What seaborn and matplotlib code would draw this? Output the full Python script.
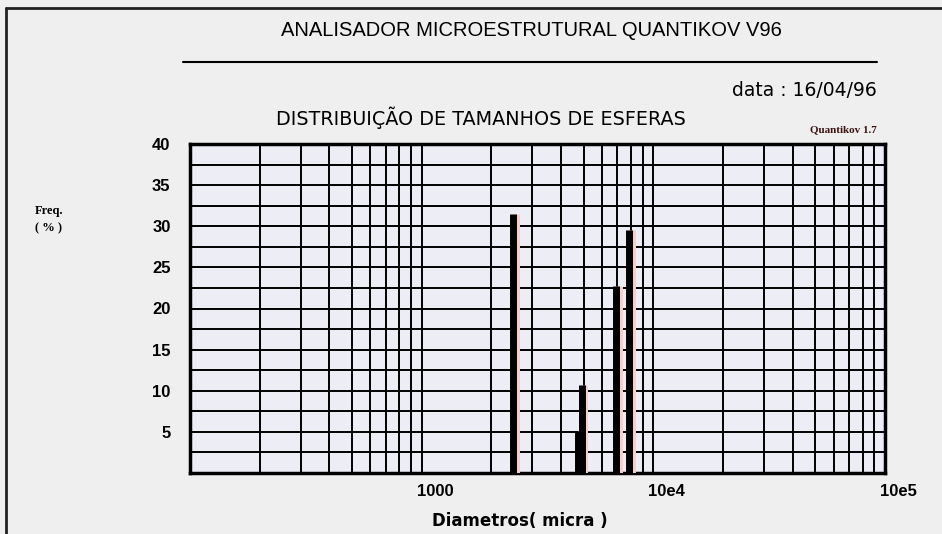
import numpy as np
import pandas as pd
import matplotlib
matplotlib.use('Agg')
import matplotlib.pyplot as plt
import matplotlib.patheffects as pe
import matplotlib.transforms as mtransforms
from matplotlib.lines import Line2D
from matplotlib.ticker import LogLocator, FixedLocator, NullFormatter
import seaborn as sns

# dados
diametros = [2480, 4730, 4920, 6930, 7890]
frequencias = [31.5, 5.1, 10.7, 22.7, 29.6]
xtick_vals = [1000, 10000, 100000]
xtick_labels = ['1000', '10e4', '10e5']
ytick_vals = [5, 10, 15, 20, 25, 30, 35, 40]

# cada barra vira um segmento vertical (0 -> freq)
rows = []
for i, (d, f) in enumerate(zip(diametros, frequencias)):
    rows.append({'barra': i, 'diametro': d, 'freq': 0.0})
    rows.append({'barra': i, 'diametro': d, 'freq': f})
df = pd.DataFrame(rows)

sns.set_style('white')
plt.rcParams['font.family'] = ['Liberation Sans', 'DejaVu Sans']
plt.rcParams['text.color'] = 'black'
plt.rcParams['xtick.color'] = 'black'
plt.rcParams['ytick.color'] = 'black'
plt.rcParams['axes.labelcolor'] = 'black'

fig = plt.figure(figsize=(9.42, 5.34), dpi=100)
fig.patch.set_facecolor('#efefef')
ax = fig.add_axes([190 / 942, 1 - 473 / 534, 695 / 942, 329 / 534])
ax.set_facecolor('#ededf5')

sns.lineplot(data=df, x='diametro', y='freq', units='barra', estimator=None,
             sort=False, color='black', linewidth=5, solid_capstyle='butt',
             legend=False, ax=ax, zorder=5,
             path_effects=[pe.SimpleLineShadow(offset=(1.8, 0), shadow_color='#f6cfc8', alpha=1),
                           pe.Normal()])

ax.set_xscale('log')
ax.set_xlim(100, 100000)
ax.set_ylim(0, 40)

# grade
ax.xaxis.set_major_locator(FixedLocator(xtick_vals))
ax.xaxis.set_minor_locator(LogLocator(base=10, subs=np.arange(2, 10)))
ax.xaxis.set_minor_formatter(NullFormatter())
ax.set_xticks(xtick_vals)
ax.set_xticklabels(xtick_labels)
ax.set_yticks(ytick_vals)
ax.set_yticklabels([str(v) for v in ytick_vals])
ax.yaxis.set_minor_locator(FixedLocator(np.arange(2.5, 40, 5)))
ax.grid(True, which='both', color='black', linewidth=1.4)
ax.set_axisbelow(True)
ax.tick_params(which='both', length=0)
ax.tick_params(axis='y', pad=14, labelsize=12)
ax.tick_params(axis='x', pad=8, labelsize=12)
shift = mtransforms.ScaledTranslation(-5 / 100, 0, fig.dpi_scale_trans)
for lab in ax.get_yticklabels() + ax.get_xticklabels():
    lab.set_fontweight('bold')
for lab in ax.get_xticklabels():
    lab.set_horizontalalignment('left')
    lab.set_transform(lab.get_transform() + shift)
for s in ax.spines.values():
    s.set_linewidth(2.5)
    s.set_color('black')
ax.set_xlabel('Diametros( micra )', fontsize=12, fontweight='bold',
              family='DejaVu Sans', va='center')
ax.xaxis.set_label_coords((520 - 190) / 695, -(521 - 473) / 329)
ax.set_ylabel('')

# textos de cabecalho
fig.text(531 / 942, 1 - 30 / 534, 'ANALISADOR MICROESTRUTURAL QUANTIKOV V96',
         ha='center', va='center', fontsize=14.5)
fig.add_artist(Line2D([183 / 942, 877 / 942], [1 - 62 / 534, 1 - 62 / 534],
                      color='black', linewidth=1.5))
fig.text(877 / 942, 1 - 90 / 534, 'data : 16/04/96', ha='right', va='center',
         fontsize=13.5, family='DejaVu Sans')
fig.text(481 / 942, 1 - 118 / 534, 'DISTRIBUIÇÃO DE TAMANHOS DE ESFERAS',
         ha='center', va='center', fontsize=13.8, family='DejaVu Sans')
fig.text(877 / 942, 1 - 130 / 534, 'Quantikov 1.7', ha='right', va='center',
         fontsize=8, fontweight='bold', color='#3b1212', family='Liberation Serif')
fig.text(35 / 942, 1 - 211 / 534, 'Freq.', ha='left', va='center',
         fontsize=9, fontweight='bold', family='Liberation Serif')
fig.text(35 / 942, 1 - 228 / 534, '( % )', ha='left', va='center',
         fontsize=9, fontweight='bold', family='Liberation Serif')

# moldura externa
fig.add_artist(Line2D([6 / 942, 6 / 942], [0, 1 - 8 / 534], color='#222222', linewidth=2))
fig.add_artist(Line2D([6 / 942, 1], [1 - 8 / 534, 1 - 8 / 534], color='#222222', linewidth=2))

fig.savefig('out.png', dpi=100, facecolor=fig.get_facecolor())
